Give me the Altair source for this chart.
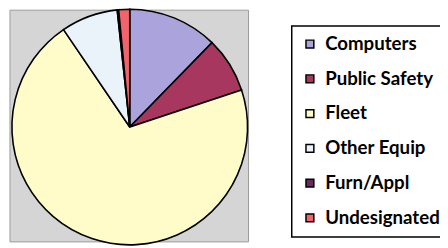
import altair as alt
import pandas as pd

categories = ["Computers", "Public Safety", "Fleet", "Other Equip", "Furn/Appl", "Undesignated"]
shares = [12.3, 7.6, 70.6, 7.8, 0.2, 1.5]
colors = ["#aba3dc", "#a8375f", "#fffcc9", "#eaf3fa", "#6a2b5c", "#f2646b"]

df = pd.DataFrame({"category": categories, "share": shares, "idx": list(range(len(categories)))})
box = pd.DataFrame({"k": [0]})

bg = alt.Chart(box).mark_rect(fill="#d5d5d5", stroke="#9a9a9a", strokeWidth=1).encode(
    x=alt.value(2), x2=alt.value(245), y=alt.value(0), y2=alt.value(236)
)

pie = alt.Chart(df).mark_arc(radius=120, stroke="black", strokeWidth=1.6).encode(
    theta=alt.Theta("share:Q", stack=True),
    order=alt.Order("idx:Q"),
    color=alt.Color(
        "category:N",
        scale=alt.Scale(domain=categories, range=colors),
        legend=alt.Legend(
            title=None,
            orient="none",
            legendX=289,
            legendY=16,
            symbolType="square",
            symbolSize=64,
            symbolStrokeColor="black",
            symbolStrokeWidth=1.5,
            labelFont="Lato",
            labelFontWeight="bold",
            labelFontSize=19,
            labelColor="black",
            labelOffset=6,
            rowPadding=15.4,
            padding=9,
            strokeColor="black",
            fillColor="white",
            labelLimit=300,
        ),
    ),
    x=alt.value(124),
    y=alt.value(119),
)

chart = alt.layer(bg, pie).properties(
    width=440, height=240, padding=0,
    autosize=alt.AutoSizeParams(type="none"),
).configure_view(stroke=None).configure_legend(strokeWidth=1.5)

chart.save("out.html", embed_options={"renderer": "svg", "actions": False})
